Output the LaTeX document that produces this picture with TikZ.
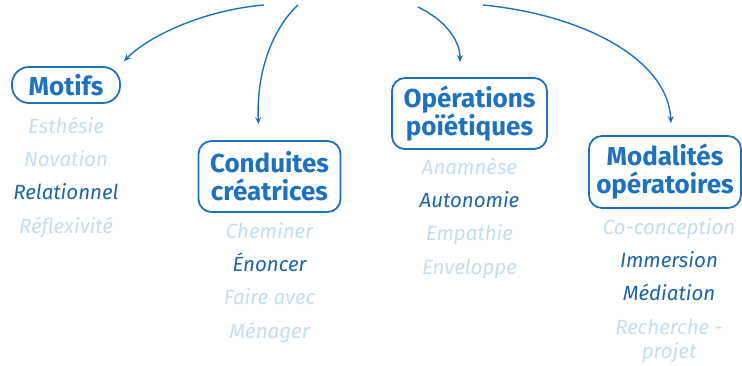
\documentclass[tikz,border=0pt]{standalone}
\usepackage{fontspec}
\setmainfont{Fira Sans}
\usetikzlibrary{positioning,arrows.meta}
\definecolor{brand}{HTML}{1E72BD}
\definecolor{deep} {HTML}{1E65A6}
\definecolor{faded}{HTML}{C6DDF0}
\tikzset{
  % --- nodes
  head/.style = {draw=brand, line width=1.8pt, rounded corners=13pt, text=brand,
                 align=center, inner sep=2pt,
                 font=\fontsize{26}{28}\selectfont\bfseries},
  pale/.style = {text=faded, align=center, inner sep=0pt, text height=15pt,
                 text depth=5pt, font=\fontsize{20.5}{24}\selectfont\itshape},
  dark/.style = {pale, text=deep},
  % --- edges
  link/.style = {-{Stealth[length=7pt,width=6pt]}, line width=1.4pt, draw=brand},
}
\begin{document}
\begin{tikzpicture}[x=1pt,y=-1pt, node distance=13pt]
  \useasboundingbox (0,0) rectangle (742,365);
  % headings
  \node[head, rounded corners=17pt, minimum width=108pt, minimum height=36pt] (mot) at (66,85) {Motifs};
  \node[head, minimum width=142pt, minimum height=71pt] (cond) at (269.5,176.5) {Conduites\\créatrices};
  \node[head, minimum width=155pt, minimum height=71pt] (ope) at (469.5,113.5) {Opérations\\poïétiques};
  \node[head, minimum width=152pt, minimum height=72pt] (mod) at (665,172) {Modalités\\opératoires};
  % Motifs
  \node[pale, below=14pt of mot] (mot1) {Esthésie};
  \node[pale, below=of mot1] (mot2) {Novation};
  \node[dark, below=of mot2] (mot3) {Relationnel};
  \node[pale, below=of mot3] (mot4) {Réflexivité};
  % Conduites
  \node[pale, below=10pt of cond] (cond1) {Cheminer};
  \node[dark, below=of cond1] (cond2) {Énoncer};
  \node[pale, below=of cond2] (cond3) {Faire avec};
  \node[pale, below=of cond3] (cond4) {Ménager};
  % Operations
  \node[pale, below=9pt of ope] (ope1) {Anamnèse};
  \node[dark, below=of ope1] (ope2) {Autonomie};
  \node[pale, below=of ope2] (ope3) {Empathie};
  \node[pale, below=of ope3] (ope4) {Enveloppe};
  % Modalites
  \node[pale, below=10pt of mod, xshift=4pt] (mod1) {Co-conception};
  \node[dark, below=of mod1] (mod2) {Immersion};
  \node[dark, below=of mod2] (mod3) {Médiation};
  \node[pale, text height=39pt, below=of mod3] (mod4) {Recherche -\\projet};
  % arrows from the top
  \coordinate (s1) at (264,5);
  \coordinate (s2) at (298,5);
  \coordinate (s3) at (418,7);
  \coordinate (s4) at (483,5);
  \draw[link] (s1) .. controls (205,10) and (150,35) .. ([xshift=3pt,yshift=5pt]mot.north east);
  \draw[link] (s2) .. controls (274,27) and (256,70) .. ([xshift=-11pt,yshift=16pt]cond.north);
  \draw[link] (s3) .. controls (445,20) and (460,40) .. ([xshift=-9.5pt,yshift=15pt]ope.north);
  \draw[link] (s4) .. controls (585,15) and (668,60) .. ([xshift=6pt,yshift=12pt]mod.north);
\end{tikzpicture}
\end{document}
